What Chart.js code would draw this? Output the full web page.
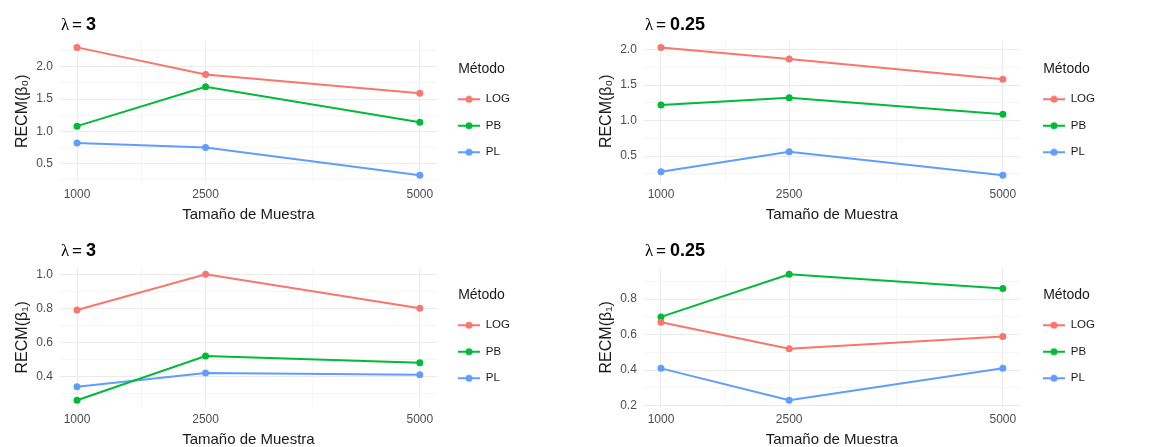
<!DOCTYPE html>
<html>
<head>
<meta charset="utf-8">
<script src="https://cdn.jsdelivr.net/npm/chart.js@4"></script>
<style>
html, body { margin: 0; padding: 0; background: #fff; overflow: hidden; width: 1157px; height: 447px; }
.panel { position: absolute; height: 225px; }
</style>
</head>
<body>
<div class="panel" style="left:0;top:0;width:578px"><canvas id="c1" width="578" height="225"></canvas></div>
<div class="panel" style="left:578px;top:0;width:579px"><canvas id="c2" width="579" height="225"></canvas></div>
<div class="panel" style="left:0;top:225px;width:578px"><canvas id="c3" width="578" height="225"></canvas></div>
<div class="panel" style="left:578px;top:225px;width:579px"><canvas id="c4" width="579" height="225"></canvas></div>
<script>
// sample sizes on the x axis
var sizes = [1000, 2500, 5000];
var methods = ['LOG', 'PB', 'PL'];
var colors = ['#F8766D', '#00BA38', '#619CFF'];

// RECM(beta0), lambda = 3
var b0L3Log = [2.30, 1.88, 1.59];
var b0L3Pb = [1.08, 1.69, 1.14];
var b0L3Pl = [0.82, 0.75, 0.32];
// RECM(beta0), lambda = 0.25
var b0L025Log = [2.03, 1.865, 1.58];
var b0L025Pb = [1.22, 1.32, 1.09];
var b0L025Pl = [0.28, 0.56, 0.23];
// RECM(beta1), lambda = 3
var b1L3Log = [0.79, 1.00, 0.80];
var b1L3Pb = [0.26, 0.52, 0.48];
var b1L3Pl = [0.34, 0.42, 0.41];
// RECM(beta1), lambda = 0.25
var b1L025Log = [0.67, 0.52, 0.59];
var b1L025Pb = [0.70, 0.94, 0.86];
var b1L025Pl = [0.41, 0.23, 0.41];

var xMinorTicks = [1750, 3750];

var FONT = '"Liberation Sans", Arial, sans-serif';

//legend key: line with a dot in the middle
function keyImage(color) {
    var c = document.createElement('canvas');
    c.width = 22; c.height = 10;
    var g = c.getContext('2d');
    g.strokeStyle = color; g.lineWidth = 2;
    g.beginPath(); g.moveTo(0, 5); g.lineTo(22, 5); g.stroke();
    g.fillStyle = color;
    g.beginPath(); g.arc(11, 5, 3.5, 0, Math.PI * 2); g.fill();
    return c;
}

//title like "λ = 3" with the number in bold
var lambdaTitle = {
    id: 'lambdaTitle',
    afterDraw: function(chart, args, opts) {
        var ctx = chart.ctx;
        var x = chart.chartArea.left + 1;
        var y = opts.y;
        ctx.save();
        ctx.fillStyle = '#000';
        ctx.textBaseline = 'alphabetic';
        ctx.textAlign = 'left';
        ctx.font = '17px "Liberation Serif", serif';
        ctx.fillText('λ', x, y);
        ctx.font = '17px ' + FONT;
        ctx.fillText('=', x + 11, y);
        ctx.font = 'bold 18px ' + FONT;
        ctx.fillText(opts.text, x + 25, y);
        ctx.restore();
    }
};

function buildChart(id, lambdaText, yTitle, series, majorStep, padLeft, padTop, padRight, gap, titleY) {
    var all = [].concat.apply([], series);
    var lo = Math.min.apply(null, all), hi = Math.max.apply(null, all);
    var ext = (hi - lo) * 0.05;
    var yMin = lo - ext, yMax = hi + ext;
    var minorStep = majorStep / 2;
    var yTicks = [];
    for (var k = Math.ceil(yMin / minorStep); k * minorStep <= yMax; k++) {
        yTicks.push(+(k * minorStep).toFixed(3));
    }
    var xExt = (sizes[sizes.length - 1] - sizes[0]) * 0.05;

    var datasets = [];
    for (i = 0; i < methods.length; i++) {
        datasets.push({
            label: methods[i],
            data: sizes.map(function(s, j) { return {x: s, y: series[i][j]}; }),
            borderColor: colors[i],
            backgroundColor: colors[i],
            borderWidth: 2,
            pointRadius: 3.5,
            pointBorderWidth: 0,
            pointBackgroundColor: colors[i],
            tension: 0
        });
    }

    return new Chart(document.getElementById(id).getContext('2d'), {
        type: 'line',
        data: {datasets: datasets},
        plugins: [lambdaTitle],
        options: {
            responsive: false,
            animation: false,
            layout: {padding: {left: padLeft, top: padTop, right: padRight, bottom: 1}},
            scales: {
                x: {
                    type: 'linear',
                    min: sizes[0] - xExt,
                    max: sizes[sizes.length - 1] + xExt,
                    afterBuildTicks: function(scale) {
                        scale.ticks = sizes.concat(xMinorTicks).sort(function(a, b) { return a - b; })
                            .map(function(v) { return {value: v}; });
                    },
                    border: {display: false},
                    grid: {
                        drawTicks: false, tickLength: 0,
                        color: function(c) { return sizes.indexOf(c.tick.value) >= 0 ? '#ebebeb' : '#f5f5f5'; }
                    },
                    ticks: {
                        autoSkip: false, maxRotation: 0, padding: 6, color: '#4d4d4d',
                        font: {family: FONT, size: 12},
                        callback: function(v) { return sizes.indexOf(v) >= 0 ? String(v) : ''; }
                    },
                    title: {
                        display: true, text: 'Tamaño de Muestra', color: '#1a1a1a',
                        font: {family: FONT, size: 15}, padding: {top: -2, bottom: 0}
                    }
                },
                y: {
                    type: 'linear',
                    min: yMin,
                    max: yMax,
                    afterBuildTicks: function(scale) { scale.ticks = yTicks.map(function(v) { return {value: v}; }); },
                    border: {display: false},
                    grid: {
                        drawTicks: false, tickLength: 0,
                        color: function(c) {
                            var v = c.tick.value / majorStep;
                            return Math.abs(v - Math.round(v)) < 1e-6 ? '#ebebeb' : '#f5f5f5';
                        }
                    },
                    ticks: {
                        autoSkip: false, padding: 7, color: '#4d4d4d',
                        font: {family: FONT, size: 12},
                        callback: function(v) {
                            var r = v / majorStep;
                            return Math.abs(r - Math.round(r)) < 1e-6 ? v.toFixed(1) : '';
                        }
                    },
                    title: {
                        display: true, text: yTitle, color: '#1a1a1a',
                        font: {family: FONT, size: 16}, padding: {top: 3, bottom: -3}
                    }
                },
                //empty strip between the plot and the legend
                gapR: {
                    type: 'linear',
                    position: 'right',
                    display: true,
                    border: {display: false},
                    grid: {display: false, drawTicks: false, tickLength: 0},
                    ticks: {display: false},
                    afterFit: function(scale) { scale.width = gap; }
                }
            },
            plugins: {
                lambdaTitle: {text: lambdaText, y: titleY},
                tooltip: {enabled: false},
                legend: {
                    display: true,
                    position: 'right',
                    align: 'center',
                    fullSize: false,
                    title: {
                        display: true, text: 'Método', color: '#1a1a1a', position: 'center',
                        font: {family: FONT, size: 14}, padding: {top: 12, bottom: 0}
                    },
                    labels: {
                        usePointStyle: true,
                        pointStyleWidth: 22,
                        padding: 15,
                        color: '#1a1a1a',
                        font: {family: FONT, size: 11.5},
                        generateLabels: function(chart) {
                            return methods.map(function(m, i) {
                                return {text: m, pointStyle: keyImage(colors[i]), fillStyle: colors[i],
                                    strokeStyle: colors[i], lineWidth: 0, datasetIndex: i, hidden: false};
                            });
                        }
                    }
                }
            }
        }
    });
}

buildChart('c1', '3', 'RECM(β₀)', [b0L3Log, b0L3Pb, b0L3Pl], 0.5, 10, 41, 58, 6, 30);
buildChart('c2', '0.25', 'RECM(β₀)', [b0L025Log, b0L025Pb, b0L025Pl], 0.5, 16, 41, 52, 8, 30);
buildChart('c3', '3', 'RECM(β₁)', [b1L3Log, b1L3Pb, b1L3Pl], 0.2, 10, 43, 58, 6, 31);
buildChart('c4', '0.25', 'RECM(β₁)', [b1L025Log, b1L025Pb, b1L025Pl], 0.2, 16, 43, 52, 8, 31);
</script>
</body>
</html>
